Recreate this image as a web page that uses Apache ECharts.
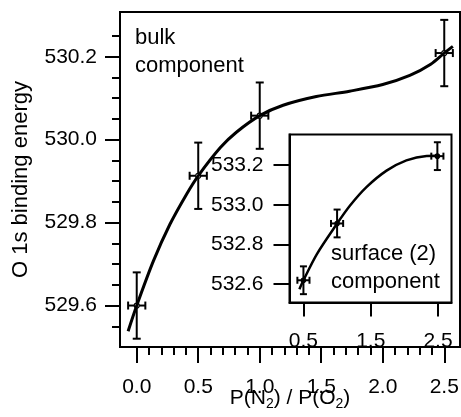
<!DOCTYPE html>
<html>
<head>
<meta charset="utf-8">
<script src="https://cdn.jsdelivr.net/npm/echarts@6/dist/echarts.min.js"></script>
<style>
  html, body { margin: 0; padding: 0; background: #fff; }
  #chart { width: 461px; height: 417px; }
</style>
</head>
<body>
<div id="chart"></div>
<script>
// bulk component (main plot)
var mainX = [0.0, 0.5, 1.0, 2.5];
var mainY = [529.60, 529.913, 530.058, 530.209];
var mainXErr = [0.07, 0.07, 0.07, 0.07];
var mainYErr = [0.08, 0.08, 0.08, 0.08];
// fitted curve
var mainFitX = [-0.07, 0.0, 0.135, 0.27, 0.41, 0.5, 0.68, 0.81, 1.0, 1.19, 1.46, 1.73, 2.0, 2.22, 2.39, 2.5, 2.57];
var mainFitY = [529.538, 529.60, 529.707, 529.796, 529.871, 529.913, 529.981, 530.018, 530.058, 530.083, 530.104, 530.117, 530.133, 530.155, 530.182, 530.209, 530.225];

// surface (2) component (inset)
var insetX = [0.5, 1.0, 2.49];
var insetY = [532.62, 532.906, 533.245];
var insetXErr = [0.09, 0.09, 0.09];
var insetYErr = [0.07, 0.07, 0.07];
var insetFitX = [0.44, 0.5, 0.70, 0.985, 1.19, 1.44, 1.735, 2.03, 2.33, 2.49];
var insetFitY = [532.575, 532.62, 532.752, 532.898, 532.995, 533.09, 533.172, 533.224, 533.246, 533.247];

// ticks
var mainXTicks = [0.0, 0.5, 1.0, 1.5, 2.0, 2.5];
var mainXMinor = [0.1, 0.2, 0.3, 0.4, 0.6, 0.7, 0.8, 0.9, 1.1, 1.2, 1.3, 1.4, 1.6, 1.7, 1.8, 1.9, 2.1, 2.2, 2.3, 2.4];
var mainYTicks = [529.6, 529.8, 530.0, 530.2];
var mainYMinor = [529.55, 529.65, 529.7, 529.75, 529.85, 529.9, 529.95, 530.05, 530.1, 530.15, 530.25];
var insetXTicks = [0.5, 1.5, 2.5];
var insetYTicks = [532.6, 532.8, 533.0, 533.2];

var FONT = 'Liberation Sans, Arial, Helvetica, sans-serif';

function zip(xs, ys) {
  return xs.map(function (x, i) { return [x, ys[i]]; });
}
function errData(xs, ys, exs, eys) {
  return xs.map(function (x, i) { return [x, ys[i], exs[i], eys[i]]; });
}
function fmt(v) { return Number(v).toFixed(1); }

function errorBars(cap, lw, dotR, filled) {
  return function (params, api) {
    var x = api.value(0), y = api.value(1), ex = api.value(2), ey = api.value(3);
    var c = api.coord([x, y]);
    var t = api.coord([x, y + ey]);
    var b = api.coord([x, y - ey]);
    var l = api.coord([x - ex, y]);
    var r = api.coord([x + ex, y]);
    var st = { stroke: '#000', lineWidth: lw, fill: null };
    var h = cap / 2;
    return {
      type: 'group',
      children: [
        { type: 'line', shape: { x1: t[0], y1: t[1], x2: b[0], y2: b[1] }, style: st },
        { type: 'line', shape: { x1: t[0] - h, y1: t[1], x2: t[0] + h, y2: t[1] }, style: st },
        { type: 'line', shape: { x1: b[0] - h, y1: b[1], x2: b[0] + h, y2: b[1] }, style: st },
        { type: 'line', shape: { x1: l[0], y1: l[1], x2: r[0], y2: r[1] }, style: { stroke: '#000', lineWidth: 2 } },
        { type: 'line', shape: { x1: l[0], y1: l[1] - h, x2: l[0], y2: l[1] + h }, style: { stroke: '#000', lineWidth: 2 } },
        { type: 'line', shape: { x1: r[0], y1: r[1] - h, x2: r[0], y2: r[1] + h }, style: { stroke: '#000', lineWidth: 2 } },
        { type: 'circle', shape: { cx: c[0], cy: c[1], r: dotR },
          style: { stroke: '#000', lineWidth: 1.2, fill: filled ? '#000' : '#fff' } }
      ]
    };
  };
}

var labelStyle = { color: '#000', fontSize: 21, fontFamily: FONT };

var option = {
  backgroundColor: '#fff',
  animation: false,
  grid: [
    { left: 120, top: 12, width: 340, height: 335, show: true, borderColor: '#000', borderWidth: 2,
      backgroundColor: '#fff', outerBoundsMode: 'none', containLabel: false },
    { left: 289.5, top: 134.5, width: 162, height: 168, show: true, borderColor: '#000', borderWidth: 2,
      backgroundColor: '#fff', outerBoundsMode: 'none', containLabel: false }
  ],
  xAxis: [
    {
      gridIndex: 0, type: 'value', position: 'bottom', min: -0.136, max: 2.628,
      axisLine: { show: true, onZero: false, lineStyle: { color: '#000', width: 2 } },
      axisTick: { show: true, inside: false, length: 16, customValues: mainXTicks, lineStyle: { color: '#000', width: 2 } },
      axisLabel: Object.assign({ customValues: mainXTicks, margin: 30, formatter: fmt }, labelStyle),
      splitLine: { show: false },
      name: '{a|P(N}{s|2}{a|) / P(O}{s|2}{a|)}',
      nameLocation: 'middle', nameGap: 38, nameMoveOverlap: false,
      nameTextStyle: {
        rich: {
          a: { fontSize: 21, fontFamily: FONT, color: '#000' },
          s: { fontSize: 14, fontFamily: FONT, color: '#000', padding: [12, 0, 0, 0] }
        }
      }
    },
    {
      gridIndex: 0, type: 'value', position: 'bottom', min: -0.136, max: 2.628,
      axisLine: { show: false, onZero: false },
      axisTick: { show: true, inside: false, length: 8, customValues: mainXMinor, lineStyle: { color: '#000', width: 2 } },
      axisLabel: { show: false },
      splitLine: { show: false }
    },
    {
      gridIndex: 1, type: 'value', position: 'bottom', min: 0.293, max: 2.7,
      axisLine: { show: true, onZero: false, lineStyle: { color: '#000', width: 2 } },
      axisTick: { show: true, inside: false, length: 14, customValues: insetXTicks, lineStyle: { color: '#000', width: 2 } },
      axisLabel: Object.assign({ customValues: insetXTicks, margin: 28, formatter: fmt }, labelStyle),
      splitLine: { show: false }
    }
  ],
  yAxis: [
    {
      gridIndex: 0, type: 'value', position: 'left', min: 529.5, max: 530.308,
      axisLine: { show: true, onZero: false, lineStyle: { color: '#000', width: 2 } },
      axisTick: { show: true, inside: false, length: 15, customValues: mainYTicks, lineStyle: { color: '#000', width: 2 } },
      axisLabel: Object.assign({ customValues: mainYTicks, margin: 23, formatter: fmt }, labelStyle),
      splitLine: { show: false },
      name: 'O 1s binding energy',
      nameLocation: 'middle', nameGap: 88, nameMoveOverlap: false,
      nameTextStyle: { fontSize: 22, fontFamily: FONT, color: '#000' }
    },
    {
      gridIndex: 0, type: 'value', position: 'left', min: 529.5, max: 530.308,
      axisLine: { show: false, onZero: false },
      axisTick: { show: true, inside: false, length: 8, customValues: mainYMinor, lineStyle: { color: '#000', width: 2 } },
      axisLabel: { show: false },
      splitLine: { show: false }
    },
    {
      gridIndex: 1, type: 'value', position: 'left', min: 532.508, max: 533.354,
      axisLine: { show: true, onZero: false, lineStyle: { color: '#000', width: 2 } },
      axisTick: { show: true, inside: false, length: 16, customValues: insetYTicks, lineStyle: { color: '#000', width: 2 } },
      axisLabel: Object.assign({ customValues: insetYTicks, margin: 26, formatter: fmt }, labelStyle),
      splitLine: { show: false }
    }
  ],
  graphic: [
    { type: 'text', left: 135, top: 24, z: 100,
      style: { text: 'bulk\ncomponent', font: '22px ' + FONT, fill: '#000', lineHeight: 28 } },
    { type: 'text', left: 331, top: 240, z: 100,
      style: { text: 'surface (2)\ncomponent', font: '22px ' + FONT, fill: '#000', lineHeight: 28 } }
  ],
  series: [
    {
      type: 'line', xAxisIndex: 0, yAxisIndex: 0, data: zip(mainFitX, mainFitY),
      smooth: 0.3, symbol: 'none', clip: false,
      lineStyle: { color: '#000', width: 3 }
    },
    {
      type: 'custom', xAxisIndex: 0, yAxisIndex: 0, clip: false,
      data: errData(mainX, mainY, mainXErr, mainYErr),
      renderItem: errorBars(8, 2, 2.5, false)
    },
    {
      type: 'line', xAxisIndex: 2, yAxisIndex: 2, data: zip(insetFitX, insetFitY),
      smooth: 0.3, symbol: 'none', z: 5,
      lineStyle: { color: '#000', width: 2.5 }
    },
    {
      type: 'custom', xAxisIndex: 2, yAxisIndex: 2, z: 5,
      data: errData(insetX, insetY, insetXErr, insetYErr),
      renderItem: errorBars(7, 2, 2.2, true)
    }
  ]
};

var chart = echarts.init(document.getElementById('chart'), null, { renderer: 'canvas' });
chart.setOption(option);
</script>
</body>
</html>
